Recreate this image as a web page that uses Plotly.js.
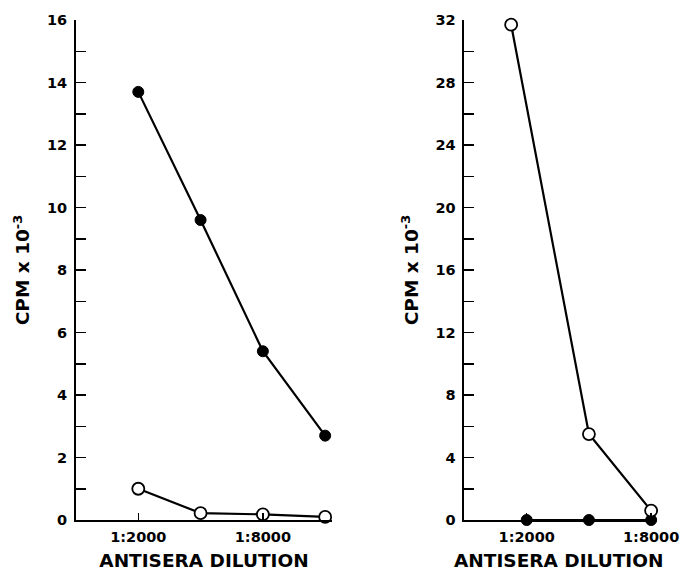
<!DOCTYPE html>
<html><head><meta charset="utf-8">
<script src="https://cdn.plot.ly/plotly-3.0.1.min.js"></script>
<style>body{margin:0;background:#fff}#c{width:683px;height:572px}</style>
</head><body><div id="c"></div>
<script>
// x position: log2(dilution/1000) -> 1:2000 = 1, 1:4000 = 2, 1:8000 = 3, 1:16000 = 4
const leftX = [1, 2, 3, 4];
const leftFilled = [13.7, 9.6, 5.4, 2.7];
const leftOpen = [1.0, 0.22, 0.18, 0.1];
const rightFilledX = [1, 2, 3];
const rightFilled = [0, 0, 0];
const rightOpenX = [0.75, 2, 3];
const rightOpen = [31.7, 5.5, 0.6];
const xTickVals = [1, 3];
const xTickText = ['1:2000', '1:8000'];
const yTitle = 'CPM x 10<sup>-3</sup>';
const xTitle = 'ANTISERA DILUTION';

const F = 'DejaVu Sans, Liberation Sans, sans-serif';
const lineStyle = {color: '#000', width: 2.2};
const filledM = {symbol: 'circle', size: 11, color: '#000', line: {color: '#000', width: 1}};
const openMfill = {symbol: 'circle', size: 12, color: '#fff', line: {color: '#000', width: 1.8}};

const traces = [
  {x: leftX, y: leftFilled, xaxis: 'x', yaxis: 'y', mode: 'lines+markers', line: lineStyle, marker: filledM, cliponaxis: false},
  {x: leftX, y: leftOpen, xaxis: 'x', yaxis: 'y', mode: 'lines+markers', line: lineStyle, marker: openMfill, cliponaxis: false},
  {x: rightFilledX, y: rightFilled, xaxis: 'x2', yaxis: 'y2', mode: 'lines+markers', line: lineStyle, marker: filledM, cliponaxis: false},
  {x: rightOpenX, y: rightOpen, xaxis: 'x2', yaxis: 'y2', mode: 'lines+markers', line: lineStyle, marker: openMfill, cliponaxis: false}
];

const tickFont = {family: F, size: 14.5, color: '#000', weight: 'bold'};
const titleFont = {family: F, size: 18.5, color: '#000', weight: 'bold'};

function xax(domain, range, anchor) {
  return {domain, range, anchor, showline: true, linecolor: '#000', linewidth: 2,
    showgrid: false, zeroline: false, tickmode: 'array', tickvals: xTickVals, ticktext: xTickText,
    ticks: 'inside', ticklen: 7, tickwidth: 1.5, tickcolor: '#000', tickfont: tickFont,
    ticklabelstandoff: 3,
    title: {text: xTitle, font: titleFont, standoff: 10}};
}
function yax(domain, range, anchor, dtick, minor) {
  return {domain, range, anchor, showline: true, linecolor: '#000', linewidth: 2,
    showgrid: false, zeroline: false, tickmode: 'linear', tick0: 0, dtick: dtick,
    ticks: 'inside', ticklen: 10, tickwidth: 1.5, tickcolor: '#000', tickfont: tickFont,
    ticklabelstandoff: 4,
    minor: {dtick: minor, tick0: 0, ticks: 'inside', ticklen: 10, tickwidth: 1.5, tickcolor: '#000', showgrid: false},
    title: {text: yTitle, font: titleFont, standoff: 12}};
}

const layout = {
  width: 683, height: 572, showlegend: false,
  paper_bgcolor: '#fff', plot_bgcolor: '#fff',
  margin: {l: 76, r: 30, t: 20, b: 52},
  xaxis: xax([0, 0.4437], [0, 4.11], 'y'),
  yaxis: yax([0, 1], [0, 16], 'x', 2, 1),
  xaxis2: xax([0.6733, 1], [0, 3.03], 'y2'),
  yaxis2: yax([0, 1], [0, 32], 'x2', 4, 2)
};
Plotly.newPlot('c', traces, layout, {displayModeBar: false, staticPlot: true});
</script></body></html>
